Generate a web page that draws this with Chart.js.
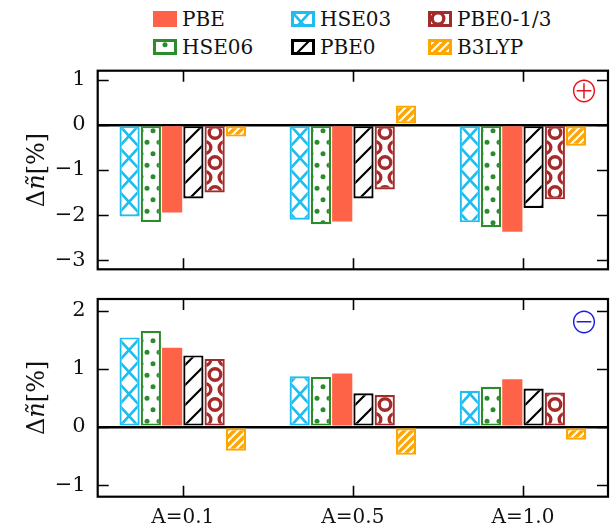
<!DOCTYPE html>
<html>
<head>
<meta charset="utf-8">
<script src="https://cdn.jsdelivr.net/npm/chart.js@4.4.1/dist/chart.umd.min.js"></script>
<style>
  html, body { margin: 0; padding: 0; background: #fff; }
  #page { position: relative; width: 611px; height: 525px; overflow: hidden; font-family: "DejaVu Serif", serif; }
  .panel { position: absolute; left: 0; width: 611px; }
  #topPanel { top: 60px; height: 215px; }
  #bottomPanel { top: 285px; height: 240px; }
  .leg { position: absolute; display: flex; align-items: center; font-size: 20px; color: #111; white-space: nowrap; }
  .leg canvas { margin-right: 5px; }
</style>
</head>
<body>
<div id="page">
  <div id="legend"></div>
  <div class="panel" id="topPanel"><canvas id="topChart"></canvas></div>
  <div class="panel" id="bottomPanel"><canvas id="bottomChart"></canvas></div>
</div>
<script>
// ─── data ───────────────────────────────────────────────────────────────
const CATEGORIES = ['A=0.1', 'A=0.5', 'A=1.0'];
const SERIES = ['HSE03', 'HSE06', 'PBE', 'PBE0', 'PBE0-1/3', 'B3LYP'];
const LEGEND_ORDER = ['PBE', 'HSE03', 'PBE0-1/3', 'HSE06', 'PBE0', 'B3LYP'];

// upper panel (⊕)
const PLUS_HSE03 = [-2.03, -2.10, -2.16];
const PLUS_HSE06 = [-2.15, -2.20, -2.27];
const PLUS_PBE = [-1.94, -2.14, -2.37];
const PLUS_PBE0 = [-1.63, -1.63, -1.84];
const PLUS_PBE0_13 = [-1.50, -1.43, -1.65];
const PLUS_B3LYP = [-0.26, 0.43, -0.46];

// lower panel (⊖)
const MINUS_HSE03 = [1.54, 0.87, 0.62];
const MINUS_HSE06 = [1.65, 0.86, 0.69];
const MINUS_PBE = [1.36, 0.92, 0.82];
const MINUS_PBE0 = [1.23, 0.58, 0.66];
const MINUS_PBE0_13 = [1.17, 0.55, 0.59];
const MINUS_B3LYP = [-0.41, -0.48, -0.22];

const TOP_TICKS = [-3, -2, -1, 0, 1];
const TOP_RANGE = [-3.2, 1.2];
const BOTTOM_TICKS = [-1, 0, 1, 2];
const BOTTOM_RANGE = [-1.2, 2.2];

// ─── styles ─────────────────────────────────────────────────────────────
const STYLE = {
  'HSE03':    { color: '#1dbdf0', hatch: 'x' },
  'HSE06':    { color: '#2a8c2a', hatch: 'dots' },
  'PBE':      { color: '#ff6347', hatch: null },
  'PBE0':     { color: '#000000', hatch: 'slash' },
  'PBE0-1/3': { color: '#a52a2a', hatch: 'rings' },
  'B3LYP':    { color: '#ffa500', hatch: 'stripes' },
};
const CAT_PCT = 0.75;
const BAR_PCT = 0.95;
const FONT = '"DejaVu Serif", serif';

function hatchTile(kind, color) {
  const c = document.createElement('canvas');
  let g;
  const size = (w, h) => { c.width = w; c.height = h; g = c.getContext('2d'); g.fillStyle = '#fff'; g.fillRect(0, 0, w, h); };
  if (kind === 'x') {
    size(20, 22);
    g.strokeStyle = color; g.lineWidth = 2.6;
    g.beginPath(); g.moveTo(0, 0); g.lineTo(20, 22); g.moveTo(20, 0); g.lineTo(0, 22); g.stroke();
  } else if (kind === 'dots') {
    size(12, 23);
    g.fillStyle = color;
    [[0, 5.75], [12, 5.75], [6, 17.25]].forEach(([x, y]) => {
      g.beginPath(); g.arc(x, y, 2.5, 0, Math.PI * 2); g.fill();
    });
  } else if (kind === 'slash') {
    size(20, 20);
    g.strokeStyle = color; g.lineWidth = 2.2;
    g.beginPath();
    g.moveTo(0, 20); g.lineTo(20, 0);
    g.moveTo(-10, 10); g.lineTo(10, -10);
    g.moveTo(10, 30); g.lineTo(30, 10);
    g.stroke();
  } else if (kind === 'rings') {
    size(20, 30);
    g.strokeStyle = color; g.lineWidth = 3.4;
    [[10, 7.5], [0, 22.5], [20, 22.5], [10, 37.5], [0, -7.5], [20, -7.5]].forEach(([x, y]) => {
      g.beginPath(); g.arc(x, y, 5.8, 0, Math.PI * 2); g.stroke();
    });
  } else if (kind === 'stripes') {
    size(8, 8);
    g.fillStyle = color; g.fillRect(0, 0, 8, 8);
    g.strokeStyle = '#fff'; g.lineWidth = 2.2;
    g.beginPath();
    g.moveTo(0, 8); g.lineTo(8, 0);
    g.moveTo(-4, 4); g.lineTo(4, -4);
    g.moveTo(4, 12); g.lineTo(12, 4);
    g.stroke();
  }
  return c;
}

const TILES = {};
SERIES.forEach(s => { if (STYLE[s].hatch) TILES[s] = hatchTile(STYLE[s].hatch, STYLE[s].color); });

// pattern anchored at the bar's left edge and the zero line
function barFill(name) {
  return (ctx) => {
    const st = STYLE[name];
    if (!st.hatch || ctx.type !== 'data') return st.color;
    const chart = ctx.chart, xs = chart.scales.x, ys = chart.scales.y;
    if (!xs || !ys) return st.color;
    const cw = xs.width / CATEGORIES.length;
    const slot = cw * CAT_PCT / SERIES.length;
    const left = xs.getPixelForValue(ctx.dataIndex) - cw * CAT_PCT / 2
      + ctx.datasetIndex * slot + slot * (1 - BAR_PCT) / 2;
    const pat = chart.ctx.createPattern(TILES[name], 'repeat');
    pat.setTransform(new DOMMatrix().translate(Math.round(left), Math.round(ys.getPixelForValue(0))));
    return pat;
  };
}

function datasetsFor(values) {
  return SERIES.map((name, i) => ({
    label: name,
    data: values[i],
    backgroundColor: barFill(name),
    borderColor: STYLE[name].color,
    borderWidth: STYLE[name].hatch ? 2.2 : 0,
    borderSkipped: false,
    categoryPercentage: CAT_PCT,
    barPercentage: BAR_PCT,
  }));
}

const fmt = v => (v < 0 ? '\u2212' + Math.abs(v) : String(v));

// frame, inward ticks, y title, panel symbol
const framePlugin = {
  id: 'frame',
  afterDraw(chart, args, opts) {
    const { ctx, chartArea: a, scales } = chart;
    ctx.save();
    ctx.strokeStyle = '#000';
    ctx.lineWidth = 1.6;
    ctx.beginPath();
    scales.y.ticks.forEach(t => {
      const y = Math.round(scales.y.getPixelForValue(t.value)) + 0.5;
      ctx.moveTo(a.left, y); ctx.lineTo(a.left + 11, y);
      ctx.moveTo(a.right, y); ctx.lineTo(a.right - 11, y);
    });
    CATEGORIES.forEach((c, i) => {
      const x = Math.round(scales.x.getPixelForValue(i)) + 0.5;
      ctx.moveTo(x, a.top); ctx.lineTo(x, a.top + 11);
      ctx.moveTo(x, a.bottom); ctx.lineTo(x, a.bottom - 11);
    });
    ctx.stroke();
    ctx.lineWidth = 2.2;
    ctx.strokeRect(a.left, a.top, a.right - a.left, a.bottom - a.top);

    // y title: Δ ñ [%] with italic n
    const parts = [['Δ', 'normal'], ['ñ', 'italic'], ['[%]', 'normal']];
    ctx.fillStyle = '#111';
    ctx.textBaseline = 'middle';
    ctx.textAlign = 'left';
    const widths = parts.map(([t, s]) => { ctx.font = s + ' 24px ' + FONT; return ctx.measureText(t).width; });
    const total = widths.reduce((p, q) => p + q, 0);
    ctx.translate(opts.titleX, (a.top + a.bottom) / 2);
    ctx.rotate(-Math.PI / 2);
    let x = -total / 2;
    parts.forEach(([t, s], i) => { ctx.font = s + ' 24px ' + FONT; ctx.fillText(t, x, 0); x += widths[i]; });
    ctx.setTransform(1, 0, 0, 1, 0, 0);

    ctx.font = '300 30px "Noto Sans CJK JP", "DejaVu Sans"';
    ctx.fillStyle = opts.color;
    ctx.textAlign = 'center';
    ctx.textBaseline = 'middle';
    ctx.fillText(opts.symbol, a.right - 24, a.top + opts.symbolDy);
    ctx.restore();
  }
};

function makeChart(id, values, ticks, range, opts) {
  return new Chart(document.getElementById(id), {
    type: 'bar',
    data: { labels: CATEGORIES, datasets: datasetsFor(values) },
    plugins: [framePlugin],
    options: {
      responsive: true, maintainAspectRatio: false, animation: false, events: [],
      layout: { padding: opts.padding },
      plugins: {
        legend: { display: false }, tooltip: { enabled: false },
        frame: { titleX: 38, symbol: opts.symbol, color: opts.color, symbolDy: opts.symbolDy },
      },
      scales: {
        x: {
          grid: { display: false, drawTicks: false }, border: { display: false },
          ticks: { display: opts.xLabels, padding: 9, color: '#111', font: { family: FONT, size: 20 } },
          afterFit: s => { s.height = opts.xHeight; s.paddingLeft = 0; s.paddingRight = 0; },
        },
        y: {
          min: range[0], max: range[1],
          afterBuildTicks: s => { s.ticks = ticks.map(v => ({ value: v })); },
          afterFit: s => { s.width = 97.7; s.paddingTop = 0; s.paddingBottom = 0; },
          border: { display: false },
          grid: {
            drawTicks: false,
            color: c => (c.tick && c.tick.value === 0 ? '#000' : 'rgba(0,0,0,0)'),
            lineWidth: 2.6,
          },
          ticks: { padding: 12, color: '#111', font: { family: FONT, size: 21 }, callback: fmt },
        },
      },
    },
  });
}

makeChart('topChart',
  [PLUS_HSE03, PLUS_HSE06, PLUS_PBE, PLUS_PBE0, PLUS_PBE0_13, PLUS_B3LYP],
  TOP_TICKS, TOP_RANGE,
  { padding: { top: 10.7, bottom: 5.7, right: 3, left: 0 }, xLabels: false, xHeight: 0,
    symbol: '⊕', color: '#e8141c', symbolDy: 20 });

makeChart('bottomChart',
  [MINUS_HSE03, MINUS_HSE06, MINUS_PBE, MINUS_PBE0, MINUS_PBE0_13, MINUS_B3LYP],
  BOTTOM_TICKS, BOTTOM_RANGE,
  { padding: { top: 14, bottom: 0, right: 3, left: 0 }, xLabels: true, xHeight: 28.3,
    symbol: '⊖', color: '#1d1de0', symbolDy: 23 });

// ─── legend (3 columns, filled column-wise) ─────────────────────────────
const LEG_X = [153, 291, 428];
const LEG_Y = [19, 47];
const legend = document.getElementById('legend');
LEGEND_ORDER.forEach((name, i) => {
  const col = i % 3, row = Math.floor(i / 3);
  const item = document.createElement('div');
  item.className = 'leg';
  item.style.left = LEG_X[col] + 'px';
  item.style.top = (LEG_Y[row] - 12) + 'px';
  item.style.height = '24px';
  const sw = document.createElement('canvas');
  sw.width = 24; sw.height = 16;
  const g = sw.getContext('2d');
  const st = STYLE[name];
  if (st.hatch) {
    g.fillStyle = g.createPattern(TILES[name], 'repeat');
    g.fillRect(0, 0, 24, 16);
    g.strokeStyle = st.color; g.lineWidth = 3;
    g.strokeRect(1.5, 1.5, 21, 13);
  } else {
    g.fillStyle = st.color; g.fillRect(0, 0, 24, 16);
  }
  item.appendChild(sw);
  const t = document.createElement('span');
  t.textContent = name;
  item.appendChild(t);
  legend.appendChild(item);
});
</script>
</body>
</html>
